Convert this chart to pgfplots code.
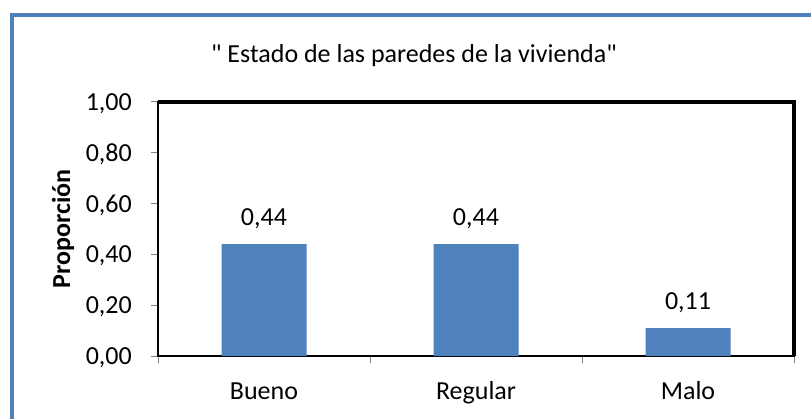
\documentclass[border=0pt]{standalone}
\usepackage{fontspec}
\setmainfont{Carlito}[Ligatures=TeXOff]
\usepackage{pgfplots}
\pgfplotsset{compat=1.18}
\definecolor{barblue}{HTML}{4F81BD}
\newcommand\lbl{\fontsize{26bp}{30bp}\selectfont}
\begin{document}
\begin{tikzpicture}[x=1bp,y=1bp]
\useasboundingbox (0,0) rectangle (811,418);
\fill[white] (0,0) rectangle (811,418);
\draw[barblue, line width=4.5bp] (12,-5) -- (12,403) -- (816,403);
\node[font=\lbl, anchor=base, inner sep=0pt] at (414,356) {" Estado de las paredes de la vivienda"};
\node[font=\lbl\bfseries, rotate=90, anchor=base, inner sep=0pt] at (70,189) {Proporción};
\begin{axis}[
  at={(158bp,62bp)}, anchor=south west,
  scale only axis, width=636bp, height=254bp,
  xmin=-0.5, xmax=2.5, ymin=0, ymax=1,
  ybar, bar width=85bp,
  xtick={0,1,2}, xticklabels={Bueno,Regular,Malo},
  minor xtick={-0.5,0.5,1.5,2.5},
  ytick={0,0.2,0.4,0.6,0.8,1.0},
  tick pos=left, tick align=outside,
  major tick length=7bp, minor tick length=7bp,
  major x tick style={draw=none},
  every tick/.style={gray, line width=1bp},
  minor tick style={gray, line width=1bp},
  axis line style={black, line width=1.5bp},
  /pgf/number format/assume math mode=true,
  /pgf/number format/use comma,
  /pgf/number format/fixed,
  /pgf/number format/fixed zerofill,
  /pgf/number format/precision=2,
  tick label style={font=\lbl},
  yticklabel style={inner sep=0pt, xshift=-19bp, yshift=-1.5bp},
  xticklabel style={anchor=base, inner sep=0pt, yshift=-36bp},
  nodes near coords,
  nodes near coords style={font=\lbl, anchor=base, inner sep=0pt, yshift=19bp},
  clip=false,
]
\addplot[fill=barblue, draw=none] coordinates {(0,0.44) (1,0.44) (2,0.11)};
\draw[black, line width=4.5bp] (rel axis cs:0,1) -- (rel axis cs:1,1) -- (rel axis cs:1,0);
\end{axis}
\end{tikzpicture}
\end{document}
